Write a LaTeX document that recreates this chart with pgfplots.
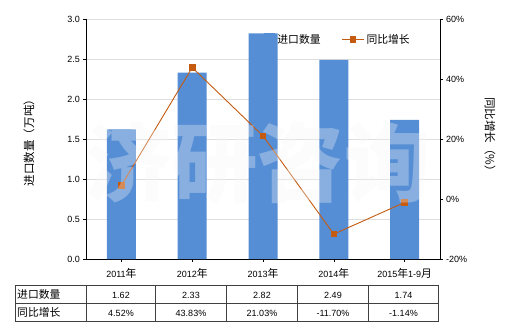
\documentclass[border=0pt]{standalone}
\usepackage{pgfplots}
\pgfplotsset{compat=1.18}
\usepackage{fontspec}
\setmainfont{Liberation Sans}
\newfontfamily\cjk[Scale=1.2]{Noto Sans CJK SC}
\definecolor{barblue}{RGB}{85,142,213}
\definecolor{lineor}{RGB}{197,90,17}
\definecolor{tblline}{RGB}{64,64,64}
\begin{document}
\begin{tikzpicture}
\useasboundingbox (0pt,0pt) rectangle (520pt,330pt);
\fontsize{9}{11}\selectfont
\begin{axis}[
  at={(86pt,71pt)}, anchor=south west,
  width=354pt, height=240pt, scale only axis,
  xmin=-0.5, xmax=4.5, ymin=0, ymax=3,
  axis x line*=bottom, axis y line*=left,
  xtick={0,1,2,3,4},
  xticklabels={2011{\cjk 年},2012{\cjk 年},2013{\cjk 年},2014{\cjk 年},2015{\cjk 年}1-9{\cjk 月}},
  ytick={0,0.5,1,1.5,2,2.5,3},
  yticklabel style={/pgf/number format/fixed,/pgf/number format/fixed zerofill,/pgf/number format/precision=1},
  /pgf/number format/assume math mode=true,
  ymajorgrids, grid style={draw=black!13, line width=0.8pt},
  tick align=outside, major tick length=3pt,
  tick style={black, line width=0.6pt},
  axis line style={black, line width=0.8pt},
  ticklabel style={font=\fontsize{9}{11}\selectfont},
  xticklabel style={yshift=-3pt},
  ybar, bar width=29pt,
]
\addplot[fill=barblue, draw=none] coordinates {(0,1.62) (1,2.33) (2,2.82) (3,2.49) (4,1.74)};
\end{axis}
\begin{axis}[
  at={(86pt,71pt)}, anchor=south west,
  width=354pt, height=240pt, scale only axis,
  xmin=-0.5, xmax=4.5, ymin=-20, ymax=60,
  axis x line=none, axis y line*=right,
  ytick={-20,0,20,40,60},
  yticklabel={\pgfmathprintnumber{\tick}\%},
  /pgf/number format/assume math mode=true,
  tick align=outside, major tick length=3pt,
  tick style={black, line width=0.6pt},
  axis line style={black, line width=0.8pt},
  ticklabel style={font=\fontsize{9}{11}\selectfont},
  legend style={at={(0.495,0.955)}, anchor=north west, draw=none, fill=none,
    font=\cjk\fontsize{9}{11}\selectfont, legend columns=2,
    /tikz/every even column/.append style={column sep=19pt}},
  legend image code/.code={\draw[#1] (0pt,0pt) -- (22pt,0pt) plot coordinates {(11pt,0pt)};},
]
\addlegendimage{area legend, fill=barblue, draw=none, legend image code/.code={\fill[barblue] (0pt,-5pt) rectangle (11pt,6pt);}}
\addlegendentry{进口数量}
\addplot[lineor, line width=0.9pt, mark=square*, mark size=2.8pt, mark options={fill=lineor, draw=lineor}] coordinates {(0,4.52) (1,43.83) (2,21.03) (3,-11.70) (4,-1.14)};
\addlegendentry{同比增长}
\end{axis}
% axis titles
\node[rotate=90, font=\cjk\fontsize{9.6}{11}\selectfont] at (29pt,190pt) {进口数量（万吨）};
\node[rotate=-90, font=\cjk\fontsize{9.6}{11}\selectfont] at (490pt,193pt) {同比增长（\%）};
% table
\draw[tblline, line width=0.9pt] (15.5pt,44.5pt) rectangle (438.5pt,9pt);
\draw[tblline, line width=0.9pt] (15.5pt,26.5pt) -- (438.5pt,26.5pt);
\foreach \xx in {86,155.5,226.5,297.5,368.5}{\draw[tblline, line width=0.9pt] (\xx pt,44.5pt) -- (\xx pt,9pt);}
\node[anchor=west, font=\cjk\fontsize{9}{11}\selectfont, inner sep=0pt] at (17pt,35.5pt) {进口数量};
\node[anchor=west, font=\cjk\fontsize{9}{11}\selectfont, inner sep=0pt] at (17pt,18pt) {同比增长};
\foreach \cx/\va/\vb in {121/1.62/4.52\%,191/2.33/43.83\%,262/2.82/21.03\%,333/2.49/-11.70\%,403.5/1.74/-1.14\%}{
  \node[inner sep=0pt] at (\cx pt,34.5pt) {\va};
  \node[inner sep=0pt] at (\cx pt,17pt) {\vb};
}
% watermark
\node[text=black!4, opacity=0.32, font=\cjk\fontsize{72}{72}\selectfont\bfseries] at (258pt,167pt) {济研咨询};
\end{tikzpicture}
\end{document}
